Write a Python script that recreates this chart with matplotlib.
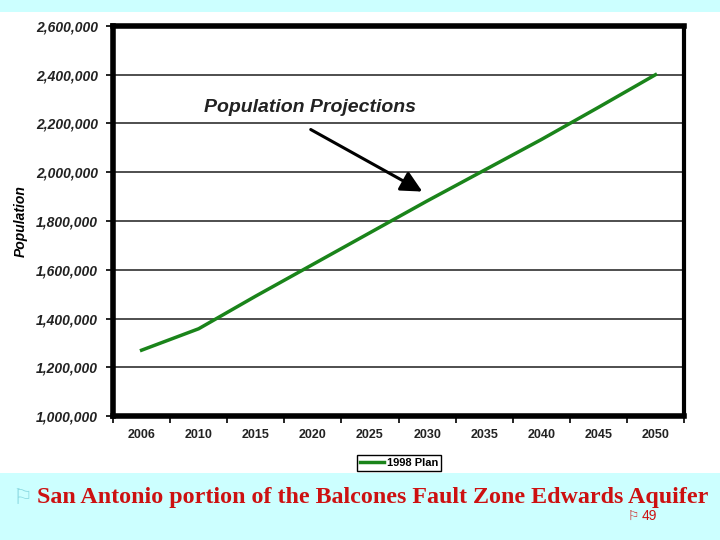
import matplotlib.pyplot as plt
from matplotlib.patches import Rectangle
from matplotlib.ticker import FuncFormatter, FixedLocator
import numpy as np

years = ['2006', '2010', '2015', '2020', '2025', '2030', '2035', '2040', '2045', '2050']
plan_1998 = [1270000, 1358000, 1492000, 1622000, 1752000, 1882000, 2008000, 2134000, 2266000, 2400000]
y_ticks = [1000000, 1200000, 1400000, 1600000, 1800000, 2000000, 2200000, 2400000, 2600000]

plt.rcParams['font.family'] = ['Liberation Sans', 'DejaVu Sans']

fig = plt.figure(figsize=(7.2, 5.4), dpi=100, facecolor='#ccffff')
# white panel behind the chart
fig.patches.append(Rectangle((0, 0.124), 1, 0.854, transform=fig.transFigure,
                             facecolor='white', edgecolor='none', zorder=-10))

ax = fig.add_axes([0.157, 0.2296, 0.793, 0.7223])
ax.set_zorder(5)
x = np.arange(len(years))
ax.plot(x, plan_1998, color='#1a841a', lw=2.5, label='1998 Plan', zorder=3)

ax.set_xlim(-0.5, len(years) - 0.5)
ax.set_ylim(y_ticks[0], y_ticks[-1])
ax.set_yticks(y_ticks)
ax.yaxis.set_major_formatter(FuncFormatter(lambda v, p: f'{int(v):,}'))
for t in ax.get_yticklabels():
    t.set_fontweight('bold')
    t.set_fontstyle('italic')
    t.set_fontsize(10)
    t.set_color('#222222')

ax.xaxis.set_major_locator(FixedLocator(np.arange(-0.5, len(years), 1.0)))
ax.set_xticklabels([])
ax.set_xticks(x, minor=True)
ax.set_xticklabels(years, minor=True, fontweight='bold', fontsize=9, color='#222222')
ax.tick_params(axis='x', which='minor', length=0, pad=9)
ax.tick_params(axis='x', which='major', length=5, width=1.2, direction='out')
ax.tick_params(axis='y', length=5, width=1.2, direction='out', pad=6)

ax.grid(axis='y', color='#404040', lw=1.3)
ax.set_axisbelow(True)
for s in ['left', 'top', 'bottom']:
    ax.spines[s].set_linewidth(4)
ax.spines['right'].set_linewidth(3)

ax.set_ylabel('Population', fontweight='bold', fontstyle='italic', fontsize=10, labelpad=6)

ax.annotate('', xy=(0.546, 0.572), xytext=(0.342, 0.738), xycoords='axes fraction',
            arrowprops=dict(arrowstyle='-|>', color='black', lw=2.2, mutation_scale=32))
ax.text(0.345, 0.792, 'Population Projections', transform=ax.transAxes, ha='center',
        va='center', fontsize=14, fontweight='bold', fontstyle='italic', color='#222222')

leg = fig.legend(loc='center', bbox_to_anchor=(0.554, 0.1426), fancybox=False,
                 edgecolor='black', framealpha=1, handlelength=2.2, handletextpad=0.2,
                 borderpad=0.25, borderaxespad=0, prop={'weight': 'bold', 'size': 8})
leg.get_frame().set_linewidth(1)

fig.text(0.017, 0.078, '\u2690', fontsize=16, color='#88d8e0', va='center', ha='left',
         family=['DejaVu Sans'])
fig.text(0.051, 0.078, 'San Antonio portion of the Balcones Fault Zone Edwards Aquifer',
         fontsize=17.3, fontweight='bold', color='#cc1111', va='center', ha='left',
         family=['Liberation Serif', 'DejaVu Serif'])
fig.text(0.872, 0.044, '\u2690', fontsize=9, color='#cc1111', va='center', ha='left',
         family=['DejaVu Sans'])
fig.text(0.891, 0.044, '49', fontsize=10, color='#cc1111', va='center', ha='left')

fig.savefig('out.png', dpi=100, facecolor=fig.get_facecolor())
